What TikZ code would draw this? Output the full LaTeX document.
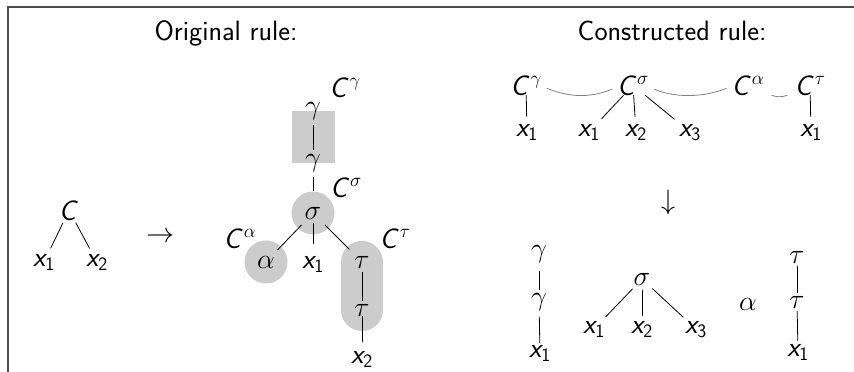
\RequirePackage{fix-cm}
\documentclass[tikz,border=0pt]{standalone}
\usepackage{amsmath}
\DeclareMathSizes{28}{28}{19}{15}
\DeclareMathAlphabet{\mathsfit}{OT1}{cmss}{m}{sl}
\usetikzlibrary{calc,backgrounds}
\newcommand{\vx}[1]{$\mathsfit{x}_{\mathsf{#1}}$}
\newcommand{\cC}[1]{$\mathsfit{C}^{#1}$}
\newcommand{\bigfont}{\fontsize{28}{33}\selectfont}
\tikzset{
  lbl/.style={anchor=base, inner sep=0pt},
  tedge/.style 2 args={line width=0.8pt, shorten <=#1, shorten >=#2},
  tie/.style={black!50, line width=0.8pt},
  hl/.style={fill=black!20},
  frameline/.style={black!70, line width=1.3pt}
}
\begin{document}
\begin{tikzpicture}[x=1pt,y=-1pt,font=\bigfont]
\useasboundingbox (0,0) rectangle (854,372);
\draw[frameline] (8,372) -- (8,7) -- (854,7);

% titles
\node[lbl, font=\bigfont\sffamily] (tO) at (226,40) {Original rule:};
\node[lbl, font=\bigfont\sffamily] (tC) at (672,40) {Constructed rule:};

% left tree
\node[lbl] (lC) at (69,220) {$\mathsfit{C}$};
\node[lbl] (lx1) at (44,266) {\vx1};
\node[lbl] (lx2) at (97,266) {\vx2};
\draw[tedge={3pt}{6pt}] (lC) -- (lx1);
\draw[tedge={3pt}{6pt}] (lC) -- (lx2);
\node[lbl] (arr) at (160,242) {$\rightarrow$};

% middle tree
\node[lbl] (g1) at (313,114) {$\gamma$};
\node[lbl] (g2) at (313,166) {$\gamma$};
\node[lbl] (s) at (313,219) {$\sigma$};
\node[lbl] (a) at (266,268) {$\alpha$};
\node[lbl] (mx1) at (313,268) {\vx1};
\node[lbl] (t1) at (362,268) {$\tau$};
\node[lbl] (t2) at (362,316) {$\tau$};
\node[lbl] (mx2) at (362,363) {\vx2};
\node[lbl] (mCg) at (345,97) {\cC{\gamma}};
\node[lbl] (mCs) at (346,197) {\cC{\sigma}};
\node[lbl] (mCa) at (240,248) {\cC{\alpha}};
\node[lbl] (mCt) at (395,248) {\cC{\tau}};
\draw[tedge={5pt}{4pt}] (g1) -- (g2);
\draw[tedge={5pt}{16pt}] (g2) -- (s);
\draw[tedge={4pt}{12pt}] (s) -- (mx1);
\draw[tedge={8pt}{8pt}] (s) -- (a);
\draw[tedge={8pt}{9pt}] (s) -- (t1);
\draw[tedge={4pt}{3pt}] (t1) -- (t2);
\draw[tedge={0pt}{9pt}] (t2) -- (mx2);

\begin{pgfonlayer}{background}
\fill[hl] ($(g1.center)+(-21.5,0)$) rectangle ($(g2.center)+(21.5,0)$);
\fill[hl] (s.center) circle[radius=21.5];
\fill[hl] (a.center) circle[radius=21.5];
\fill[hl, rounded corners=20.9pt] ($(t1.center)+(-21,-21)$) rectangle ($(t2.center)+(21,21)$);
\end{pgfonlayer}

% constructed rule, top
\node[lbl] (rCg) at (526,95) {\cC{\gamma}};
\node[lbl] (rgx1) at (527,136) {\vx1};
\node[lbl] (rCs) at (633,95) {\cC{\sigma}};
\node[lbl] (rsx1) at (589,136) {\vx1};
\node[lbl] (rsx2) at (636,136) {\vx2};
\node[lbl] (rsx3) at (690,136) {\vx3};
\node[lbl] (rCa) at (748,95) {\cC{\alpha}};
\node[lbl] (rCt) at (810,95) {\cC{\tau}};
\node[lbl] (rtx1) at (811,136) {\vx1};
\draw[tedge={0pt}{7pt}] (rCg) -- (rgx1);
\draw[tedge={0pt}{7pt}] (rCs) -- (rsx1);
\draw[tedge={0pt}{7pt}] (rCs) -- (rsx2);
\draw[tedge={0pt}{7pt}] (rCs) -- (rsx3);
\draw[tedge={0pt}{7pt}] (rCt) -- (rtx1);
\draw[tie] ($(rCg.east)+(5,3)$) .. controls +(22,9) and +(-22,9) .. ($(rCs.west)+(-5,4)$);
\draw[tie] ($(rCs.east)+(5,4)$) .. controls +(22,9) and +(-22,9) .. ($(rCa.west)+(-5,3)$);
\draw[tie] ($(rCa.east)+(7,10)$) .. controls +(6,2) and +(-6,2) .. ($(rCt.west)+(-7,10)$);

\node[lbl] (down) at (668,209) {$\downarrow$};

% constructed rule, bottom
\node[lbl] (bg1) at (539,257) {$\gamma$};
\node[lbl] (bg2) at (539,305) {$\gamma$};
\node[lbl] (bgx1) at (540,357) {\vx1};
\draw[tedge={8pt}{3pt}] (bg1) -- (bg2);
\draw[tedge={6pt}{2pt}] (bg2) -- (bgx1);
\node[lbl] (bs) at (642,285) {$\sigma$};
\node[lbl] (bsx1) at (594,333) {\vx1};
\node[lbl] (bsx2) at (642,333) {\vx2};
\node[lbl] (bsx3) at (696,333) {\vx3};
\draw[tedge={5pt}{5pt}] (bs) -- (bsx1);
\draw[tedge={5pt}{5pt}] (bs) -- (bsx2);
\draw[tedge={5pt}{5pt}] (bs) -- (bsx3);
\node[lbl] (ba) at (748,310) {$\alpha$};
\node[lbl] (bt1) at (797,263) {$\tau$};
\node[lbl] (bt2) at (797,308) {$\tau$};
\node[lbl] (btx1) at (798,356) {\vx1};
\draw[tedge={3pt}{3pt}] (bt1) -- (bt2);
\draw[tedge={3pt}{3pt}] (bt2) -- (btx1);
\end{tikzpicture}
\end{document}
